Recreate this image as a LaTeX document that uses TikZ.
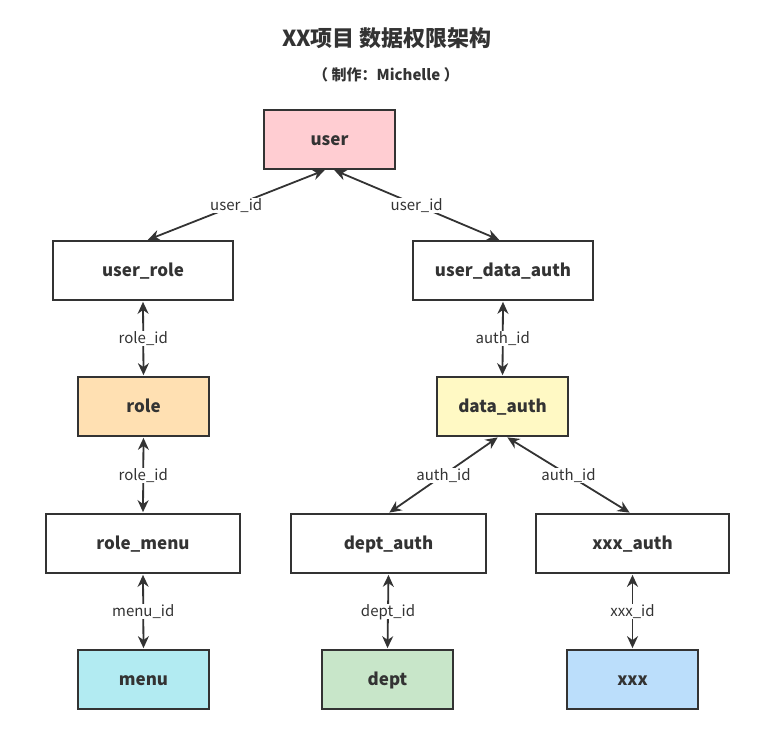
\documentclass[tikz,border=0pt]{standalone}
\usepackage{fontspec}
\setmainfont{Noto Sans CJK SC}
\usetikzlibrary{arrows.meta}
\definecolor{ink}{HTML}{333333}
\definecolor{cuser}{HTML}{FFCDD2}
\definecolor{crole}{HTML}{FFE0B2}
\definecolor{cdata}{HTML}{FFF9C4}
\definecolor{cmenu}{HTML}{B2EBF2}
\definecolor{cdept}{HTML}{C8E6C9}
\definecolor{cxxx}{HTML}{BBDEFB}
\begin{document}
\begin{tikzpicture}[x=1pt,y=-1pt,
  box/.style={draw=ink,line width=1.7pt,minimum height=59pt,inner sep=0pt,text height=12pt,text depth=0pt,font=\fontsize{17}{19}\selectfont\bfseries,text=ink},
  link/.style={draw=ink,line width=1.8pt,{Stealth[length=12pt,width=11pt]}-{Stealth[length=12pt,width=11pt]},shorten <=1pt,shorten >=1pt},
  lbl/.style={fill=white,inner sep=1.5pt,text height=11pt,text depth=1pt,font=\fontsize{15}{17}\selectfont,text=ink}]
\useasboundingbox (0,0) rectangle (774,745);
\node[font=\fontsize{22}{25}\selectfont\bfseries,text=ink] (title) at (387,38) {XX项目 数据权限架构};
\node[font=\fontsize{15}{18}\selectfont\bfseries,text=ink] (sub) at (386,75) {（ 制作：Michelle ）};

\node[box,fill=cuser,minimum width=131pt] (user) at (329.5,139.5) {user};
\node[box,fill=white,minimum width=180pt] (urole) at (143,270.5) {user\_role};
\node[box,fill=white,minimum width=180pt] (uda) at (503,270.5) {user\_data\_auth};
\node[box,fill=crole,minimum width=131pt] (role) at (143.5,406.5) {role};
\node[box,fill=cdata,minimum width=131pt] (da) at (502.5,406.5) {data\_auth};
\node[box,fill=white,minimum width=194pt] (rmenu) at (143,543.5) {role\_menu};
\node[box,fill=white,minimum width=195pt] (dauth) at (388.5,543.5) {dept\_auth};
\node[box,fill=white,minimum width=193pt] (xauth) at (632.5,543.5) {xxx\_auth};
\node[box,fill=cmenu,minimum width=131pt] (menu) at (143.5,679.5) {menu};
\node[box,fill=cdept,minimum width=131pt] (dept) at (387.5,679.5) {dept};
\node[box,fill=cxxx,minimum width=131pt] (xxx) at (632.5,679.5) {xxx};

\draw[link] ([xshift=-4pt]user.south) -- node[lbl]{user\_id} ([xshift=4pt]urole.north);
\draw[link] ([xshift=4pt]user.south) -- node[lbl]{user\_id} ([xshift=-3pt]uda.north);
\draw[link] (urole.south) -- node[lbl]{role\_id} (role.north);
\draw[link] (role.south) -- node[lbl]{role\_id} (rmenu.north);
\draw[link] (rmenu.south) -- node[lbl]{menu\_id} (menu.north);
\draw[link] (uda.south) -- node[lbl]{auth\_id} (da.north);
\draw[link] ([xshift=-4pt]da.south) -- node[lbl]{auth\_id} (dauth.north);
\draw[link] ([xshift=4pt]da.south) -- node[lbl]{auth\_id} ([xshift=-2pt]xauth.north);
\draw[link] (dauth.south) -- node[lbl]{dept\_id} (dept.north);
\draw[link] (xauth.south) -- node[lbl]{xxx\_id} (xxx.north);
\end{tikzpicture}
\end{document}
